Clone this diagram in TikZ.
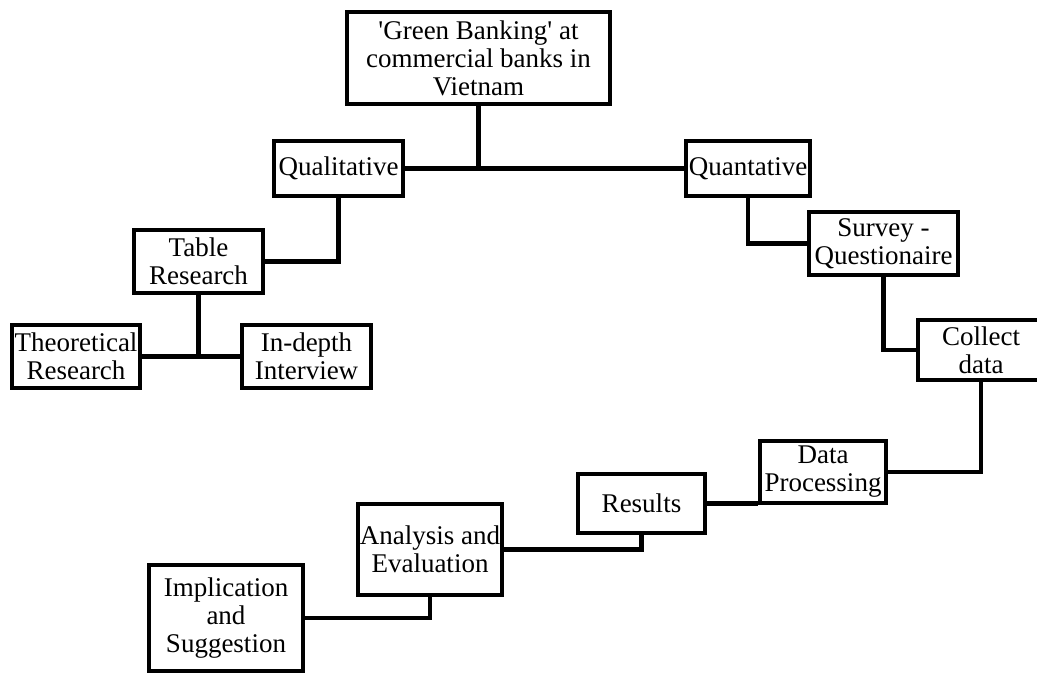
\documentclass[tikz,border=0pt]{standalone}
\usepackage{fontspec}
\setmainfont{Liberation Serif}[Ligatures=TeXOff]
\begin{document}
\begin{tikzpicture}[x=1pt,y=-1pt]
\tikzset{box/.style={draw,line width=4.5pt,inner sep=0pt,align=center,
                     font=\fontsize{27}{28}\selectfont},
         link/.style={line width=4.5pt}}
\useasboundingbox (0,0) rectangle (1037,675);
\node[box,minimum width=263pt,minimum height=92pt] (top) at (478.5,58) {'Green Banking' at\\commercial banks in\\Vietnam};
\node[box,minimum width=129pt,minimum height=55pt] (qual) at (338.5,168.5) {Qualitative};
\node[box,minimum width=124pt,minimum height=55pt] (quan) at (748,168.5) {Quantative};
\node[box,minimum width=129pt,minimum height=63pt] (table) at (198.5,261.5) {Table\\Research};
\node[box,minimum width=128pt,minimum height=63pt] (theo) at (76,356.5) {Theoretical\\Research};
\node[box,minimum width=129pt,minimum height=63pt] (indepth) at (306.5,356.5) {In-depth\\Interview};
\node[box,minimum width=149pt,minimum height=63pt] (survey) at (883.5,243.5) {Survey -\\Questionaire};
\node[box,minimum width=126pt,minimum height=60pt] (coll) at (981,350) {Collect\\data};
\node[box,minimum width=126pt,minimum height=62pt] (proc) at (823,472) {Data\\Processing};
\node[box,minimum width=127pt,minimum height=59pt] (res) at (641.5,503.5) {Results};
\node[box,minimum width=144pt,minimum height=91pt] (anal) at (430,549.5) {Analysis and\\Evaluation};
\node[box,minimum width=154pt,minimum height=106pt] (impl) at (226,618) {Implication\\and\\Suggestion};
% left branch
\draw[link] (qual.east) -- (quan.west);
\draw[link] (top.south) -- (top.south |- qual.east);
\draw[link] (qual.south) |- (table.east);
\draw[link] (theo.east) -- (indepth.west);
\draw[link] (table.south) -- (table.south |- theo.east);
% right branch
\draw[link] (quan.south) |- (survey.west);
\draw[link] (survey.south) |- (coll.west);
\draw[link] (coll.south) |- (proc.east);
\draw[link] (res.east) -- (res.east -| proc.west);
\draw[link] (res.south) |- (anal.east);
\draw[link] (anal.south) |- (impl.east);
\end{tikzpicture}
\end{document}
